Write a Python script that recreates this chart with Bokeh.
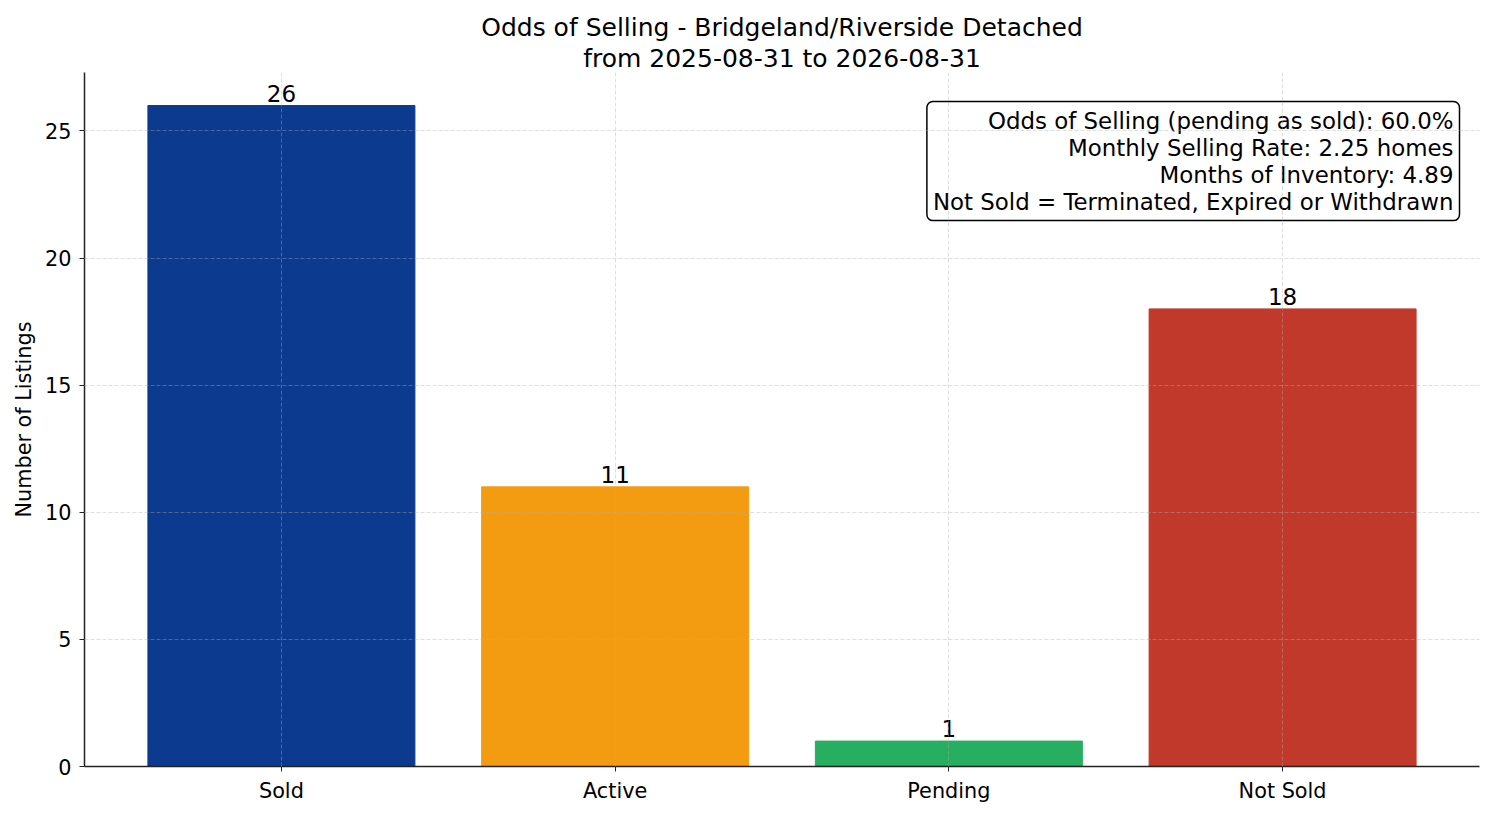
from bokeh.plotting import figure
from bokeh.models import ColumnDataSource, Range1d, FactorRange, Label, SingleIntervalTicker, Title
from bokeh.embed import file_html
from bokeh.resources import INLINE

categories = ["Sold", "Active", "Pending", "Not Sold"]
counts = [26, 11, 1, 18]
colors = ["#0b3a8f", "#f39c12", "#27ae60", "#c0392b"]
title_lines = ["Odds of Selling - Bridgeland/Riverside Detached",
               "from 2025-08-31 to 2026-08-31"]
stats_lines = [
    "Odds of Selling (pending as sold): 60.0%",
    "Monthly Selling Rate: 2.25 homes",
    "Months of Inventory: 4.89",
    "Not Sold = Terminated, Expired or Withdrawn",
]

FONT = "DejaVu Sans"

src = ColumnDataSource(dict(cat=categories, n=counts, color=colors,
                            lbl=[str(c) for c in counts]))

p = figure(x_range=FactorRange(*categories, range_padding=0.09,
                               range_padding_units="absolute"),
           y_range=Range1d(0, 27.3),
           width=1486, height=808, frame_width=1395, frame_height=694,
           min_border_left=84, min_border_right=7, min_border_top=72,
           min_border_bottom=42,
           output_backend="svg", toolbar_location=None)

# two centred title lines (last added sits on top)
for line in reversed(title_lines):
    p.add_layout(Title(text=line, align="center", text_font=FONT,
                       text_font_size="25px", text_font_style="normal",
                       text_color="#000000", standoff=0, offset=0), "above")

p.vbar(x="cat", top="n", width=0.8, color="color", source=src)
p.text(x="cat", y="n", text="lbl", source=src, text_align="center",
       text_baseline="bottom", y_offset=-4, text_font_size="23px",
       text_font={"value": FONT}, text_color="#000000")

p.outline_line_color = None
p.background_fill_color = "white"

# grid drawn over the bars, light dashed
for g in (p.xgrid, p.ygrid):
    g.grid_line_color = "#b0b0b0"
    g.grid_line_alpha = 0.5
    g.grid_line_dash = "4 2"
    g.grid_line_width = 0.8
    g.level = "overlay"

p.yaxis.ticker = SingleIntervalTicker(interval=5)
p.yaxis.axis_label = "Number of Listings"
p.yaxis.axis_label_text_font = FONT
p.yaxis.axis_label_text_font_size = "20.8px"
p.yaxis.axis_label_text_font_style = "normal"
p.yaxis.axis_label_text_color = "#000000"
p.yaxis.axis_label_standoff = 6
p.yaxis.minor_tick_line_color = None

for ax in (p.xaxis, p.yaxis):
    ax.major_label_text_font = FONT
    ax.major_label_text_font_size = "20.8px"
    ax.major_label_text_color = "#000000"
    ax.axis_line_color = "#222222"
    ax.axis_line_width = 1.5
    ax.major_tick_line_color = "#222222"
    ax.major_tick_in = 0
    ax.major_tick_out = 5

p.xaxis.major_label_standoff = 7
p.yaxis.major_label_standoff = 8

stats = Label(x=1375, y=665, x_units="screen", y_units="screen",
              text="\n".join(stats_lines), text_align="right",
              text_baseline="top", text_font=FONT, text_font_size="22.9px",
              text_line_height=1.04, text_color="#000000",
              border_line_color="#000000", border_line_width=1.5,
              background_fill_color="white", padding=6, border_radius=6)
p.add_layout(stats)

open("out.html", "w").write(file_html(p, INLINE))
